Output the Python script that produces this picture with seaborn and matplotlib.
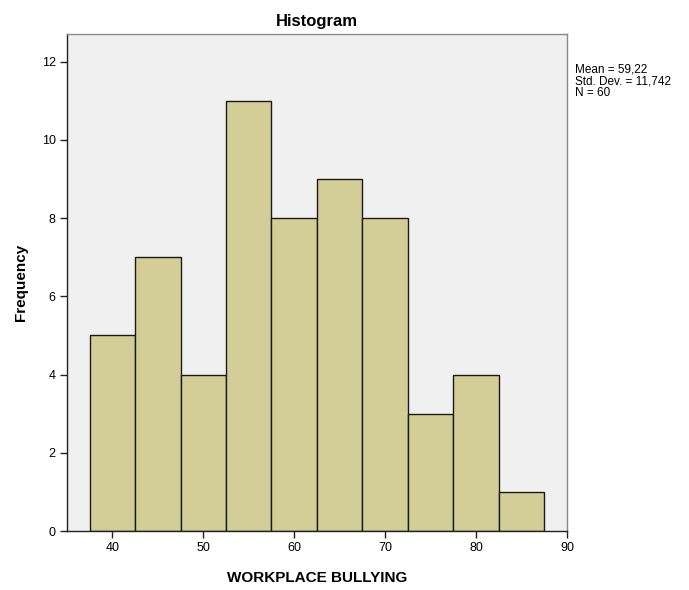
import numpy as np
import pandas as pd
import seaborn as sns
import matplotlib.pyplot as plt

# Histogram bins (midpoints) and counts
bin_mids = [40, 45, 50, 55, 60, 65, 70, 75, 80, 85]
counts = [5, 7, 4, 11, 8, 9, 8, 3, 4, 1]
bin_edges = [37.5, 42.5, 47.5, 52.5, 57.5, 62.5, 67.5, 72.5, 77.5, 82.5, 87.5]
x_ticks = [40, 50, 60, 70, 80, 90]
y_ticks = [0, 2, 4, 6, 8, 10, 12]
stats_lines = ["Mean = 59,22", "Std. Dev. = 11,742", "N = 60"]

df = pd.DataFrame({"WORKPLACE BULLYING": bin_mids, "n": counts})

sns.set_style("ticks")
plt.rcParams["font.family"] = ["Liberation Sans", "DejaVu Sans"]
plt.rcParams["text.color"] = "black"
plt.rcParams["axes.labelcolor"] = "black"
plt.rcParams["xtick.color"] = "black"
plt.rcParams["ytick.color"] = "black"

fig = plt.figure(figsize=(6.89, 5.90), dpi=100)
ax = fig.add_axes([0.097, 0.10, 0.726, 0.842])
ax.set_facecolor("#F0F0F0")

sns.histplot(data=df, x="WORKPLACE BULLYING", weights="n", bins=bin_edges,
             color="#D3CE97", alpha=1, edgecolor="#1a1a1a", linewidth=1.0, ax=ax)

ax.set_xlim(35, 90)
ax.set_ylim(0, 12.7)
ax.set_xticks(x_ticks)
ax.set_yticks(y_ticks)
ax.tick_params(axis="both", labelsize=9, length=5, width=1, color="#222222", pad=3)

for side in ["left", "bottom"]:
    ax.spines[side].set_color("#222222")
    ax.spines[side].set_linewidth(1)
for side in ["top", "right"]:
    ax.spines[side].set_visible(True)
    ax.spines[side].set_color("#888888")
    ax.spines[side].set_linewidth(1)

ax.set_title("Histogram", fontsize=12, fontweight="bold", pad=6)
ax.set_xlabel("WORKPLACE BULLYING", fontsize=11, fontweight="bold", labelpad=12)
ax.set_ylabel("Frequency", fontsize=11, fontweight="bold", labelpad=10)

fig.text(0.834, 0.893, "\n".join(stats_lines), fontsize=8.5, va="top", ha="left",
         linespacing=1.0)

plt.savefig("out.png", dpi=100)
